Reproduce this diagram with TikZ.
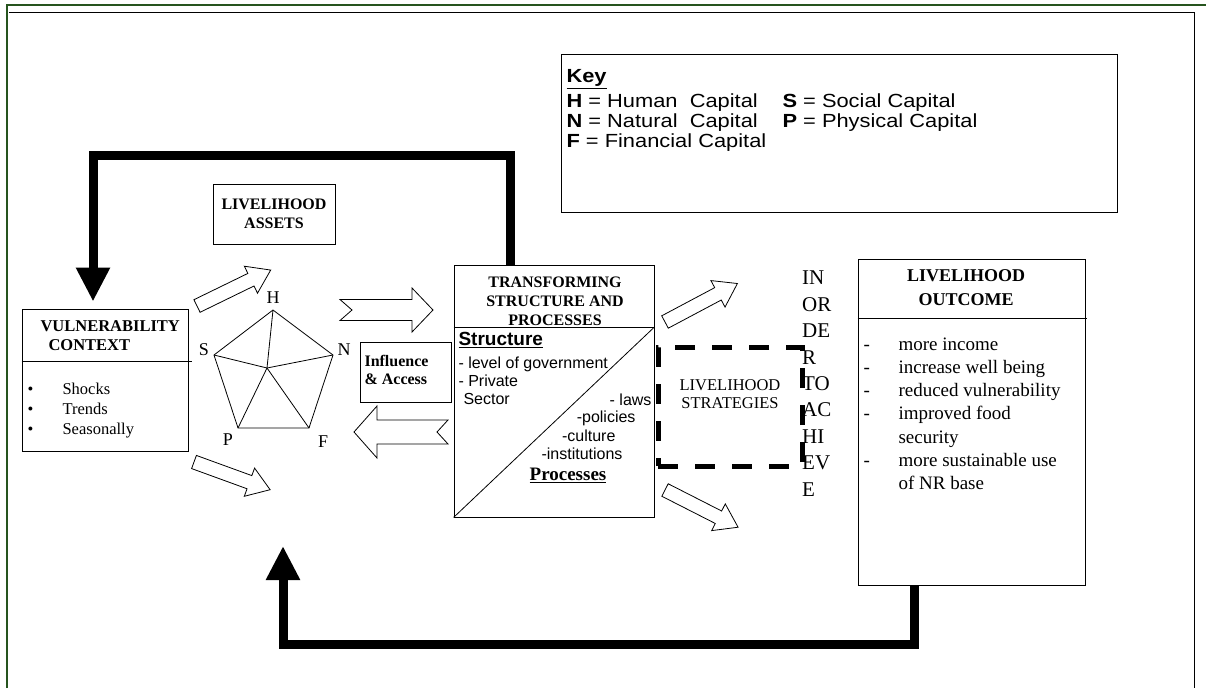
\documentclass[tikz,border=0pt]{standalone}
\usepackage{fontspec}
\setmainfont{Liberation Serif}
\setsansfont{Liberation Sans}
\newfontfamily\widesans{Liberation Sans}[FakeStretch=1.15]
\usetikzlibrary{arrows.meta}

\definecolor{framegreen}{RGB}{38,84,30}
\newcommand{\fs}[2]{\fontsize{#1}{#2}\selectfont}
% hollow block arrow: x, y, angle, length
\newcommand{\hollowarrow}[4]{%
  \draw[hollow,shift={(#1,#2)},rotate=#3] (0,-7) -- (#4-22,-7) -- (#4-22,-15)
    -- (#4,0) -- (#4-22,15) -- (#4-22,7) -- (0,7) -- cycle;}

\tikzset{
  box/.style={draw, line width=0.9pt, inner sep=0pt},
  title/.style={font=\bfseries\fs{16}{19}, align=center},
  keytext/.style={font=\widesans\fs{19}{20}, anchor=west},
  hollow/.style={draw, line width=0.8pt, fill=white, line join=miter},
  feedback/.style={line width=9pt, line join=miter},
  dashbox/.style={draw, line width=5pt, dash pattern=on 20pt off 17pt},
}

\begin{document}
\begin{tikzpicture}[x=1pt,y=-1pt]
  \useasboundingbox (0,0) rectangle (1206,688);

  % frame
  \draw[framegreen, line width=2.5pt] (7,688) -- (7,5) -- (1206,5);
  \draw[line width=0.8pt] (9,12) -- (1194,12) -- (1194,688);

  % key
  \node[box, minimum width=556, minimum height=158] (key) at (839,133) {};
  \node[keytext, font=\widesans\bfseries\fs{19}{20}] (keyhead) at (563,79) {\underline{Key}};
  \node[keytext] (keyH) at (563,103) {\textbf{H} = Human~ Capital};
  \node[keytext] (keyN) at (563,123) {\textbf{N} = Natural~ Capital};
  \node[keytext] (keyF) at (563,143) {\textbf{F} = Financial Capital};
  \node[keytext] (keyS) at (779,103) {\textbf{S} = Social Capital};
  \node[keytext] (keyP) at (779,123) {\textbf{P} = Physical Capital};

  % vulnerability context
  \node[box, minimum width=166, minimum height=142] (vul) at (105,380) {};
  \draw[line width=0.9pt] (vul.west |- 0,361) -- (192,361);
  \node[title, font=\bfseries\fs{16.5}{19}, align=left, anchor=west] (vultitle) at (37,336)
    {VULNERABILITY\\\hspace*{8pt}CONTEXT};
  \foreach \t [count=\i] in {Shocks,Trends,Seasonally} {
    \node[anchor=base west, font=\fs{16.5}{20}] (bul\i) at (24,374+20*\i) {\textbullet};
    \node[anchor=base west, font=\fs{16.5}{20}] (vt\i) at (59,374+20*\i) {\t};
  }

  % livelihood assets
  \node[box, minimum width=122, minimum height=60, title] (assets) at (274,214)
    {LIVELIHOOD\\ASSETS};

  % asset pentagon
  \coordinate (H) at (273,310);
  \coordinate (S) at (214,355);
  \coordinate (N) at (333,355);
  \coordinate (F) at (309,428);
  \coordinate (P) at (238,428);
  \coordinate (C) at (267,368);
  \draw[line width=0.8pt] (H) -- (N) -- (F) -- (P) -- (S) -- cycle;
  \foreach \v in {H,N,F,P,S} \draw[line width=0.8pt] (C) -- (\v);
  \node[font=\fs{18}{20}] (labH) at (273,298) {H};
  \node[font=\fs{18}{20}] (labS) at (204,350) {S};
  \node[font=\fs{18}{20}] (labN) at (344,350) {N};
  \node[font=\fs{18}{20}] (labP) at (228,440) {P};
  \node[font=\fs{18}{20}] (labF) at (323,442) {F};

  % influence and access
  \node[box, minimum width=91, minimum height=60] (infl) at (405.5,372) {};
  \node[font=\bfseries\fs{16}{18}, align=left, anchor=west] (infltxt) at (361,370)
    {Influence\\\& Access};

  % block arrows
  \hollowarrow{197}{306}{26}{82}
  \hollowarrow{194}{462}{-20}{81}
  \hollowarrow{665}{322}{28}{82}
  \hollowarrow{665}{490}{-27}{82}
  \draw[hollow] (340,299.5) -- (412,299.5) -- (412,288) -- (433,310) -- (412,332)
    -- (412,320.5) -- (340,320.5) -- (352,310) -- cycle;
  \draw[hollow] (448,420) -- (377,420) -- (377,406) -- (354,432) -- (377,458)
    -- (377,444) -- (448,444) -- (437,432) -- cycle;

  % transforming structures
  \node[box, minimum width=200, minimum height=252] (trans) at (554,391) {};
  \draw[line width=0.9pt] (trans.west |- 0,327) -- (trans.east |- 0,327);
  \draw[line width=0.8pt] (trans.south west) -- (trans.east |- 0,327);
  \node[title] (transtitle) at (555,301) {TRANSFORMING\\STRUCTURE AND\\PROCESSES};
  \node[font=\sffamily\bfseries\fs{19}{20}, anchor=west] (struct) at (455,340)
    {\underline{Structure}};
  \node[font=\sffamily\fs{16}{18}, align=left, anchor=north west] (structlist) at (455,353)
    {- level of government\\- Private\\\hspace*{5pt}Sector};
  \node[font=\sffamily\fs{16}{18}, anchor=east] (laws) at (655,400) {- laws};
  \node[font=\sffamily\fs{16}{18}, anchor=east] (policies) at (639,418) {-policies};
  \node[font=\sffamily\fs{16}{18}, anchor=east] (culture) at (619,436) {-culture};
  \node[font=\sffamily\fs{16}{18}, anchor=east] (instit) at (626,454) {-institutions};
  \node[font=\bfseries\fs{19}{20}] (proc) at (568,475) {\underline{Processes}};

  % livelihood strategies
  \node[dashbox, minimum width=144, minimum height=119] (strat) at (730,406.5) {};
  \node[font=\fs{16.5}{18}, align=center] (strattxt) at (730,394) {LIVELIHOOD\\STRATEGIES};
  \node[font=\fs{21}{26.4}, align=left, anchor=north west, inner sep=0pt] (order) at (802,271)
    {IN\\OR\\DE\\R\\TO\\AC\\HI\\EV\\E};

  % livelihood outcome
  \node[box, minimum width=227, minimum height=326] (outcome) at (971.5,422) {};
  \draw[line width=0.9pt] (outcome.west |- 0,318) -- (1087,318);
  \node[font=\bfseries\fs{18}{24}, align=center] (outtitle) at (966,288)
    {LIVELIHOOD\\OUTCOME};
  \foreach \t/\d [count=\i] in {more income/-, increase well being/-,
      reduced vulnerability/-, improved food/-, security/, more sustainable use/-,
      of NR base/} {
    \node[anchor=base west, font=\fs{19}{20}] (od\i) at (860,326.7+23.3*\i) {\d};
    \node[anchor=base west, font=\fs{19}{20}] (ot\i) at (895,326.7+23.3*\i) {\t};
  }

  % feedback loops
  \coordinate (assetsin) at (283,546);
  \draw[feedback, -{Triangle[length=34pt,width=32pt]}] ([xshift=-44pt]trans.north)
    -- ++(0,-109) -| ([xshift=-12pt,yshift=7pt]vul.north);
  \draw[feedback, -{Triangle[length=34pt,width=32pt]}] ([xshift=-57pt]outcome.south)
    -- ++(0,59) -| (assetsin);
\end{tikzpicture}
\end{document}
